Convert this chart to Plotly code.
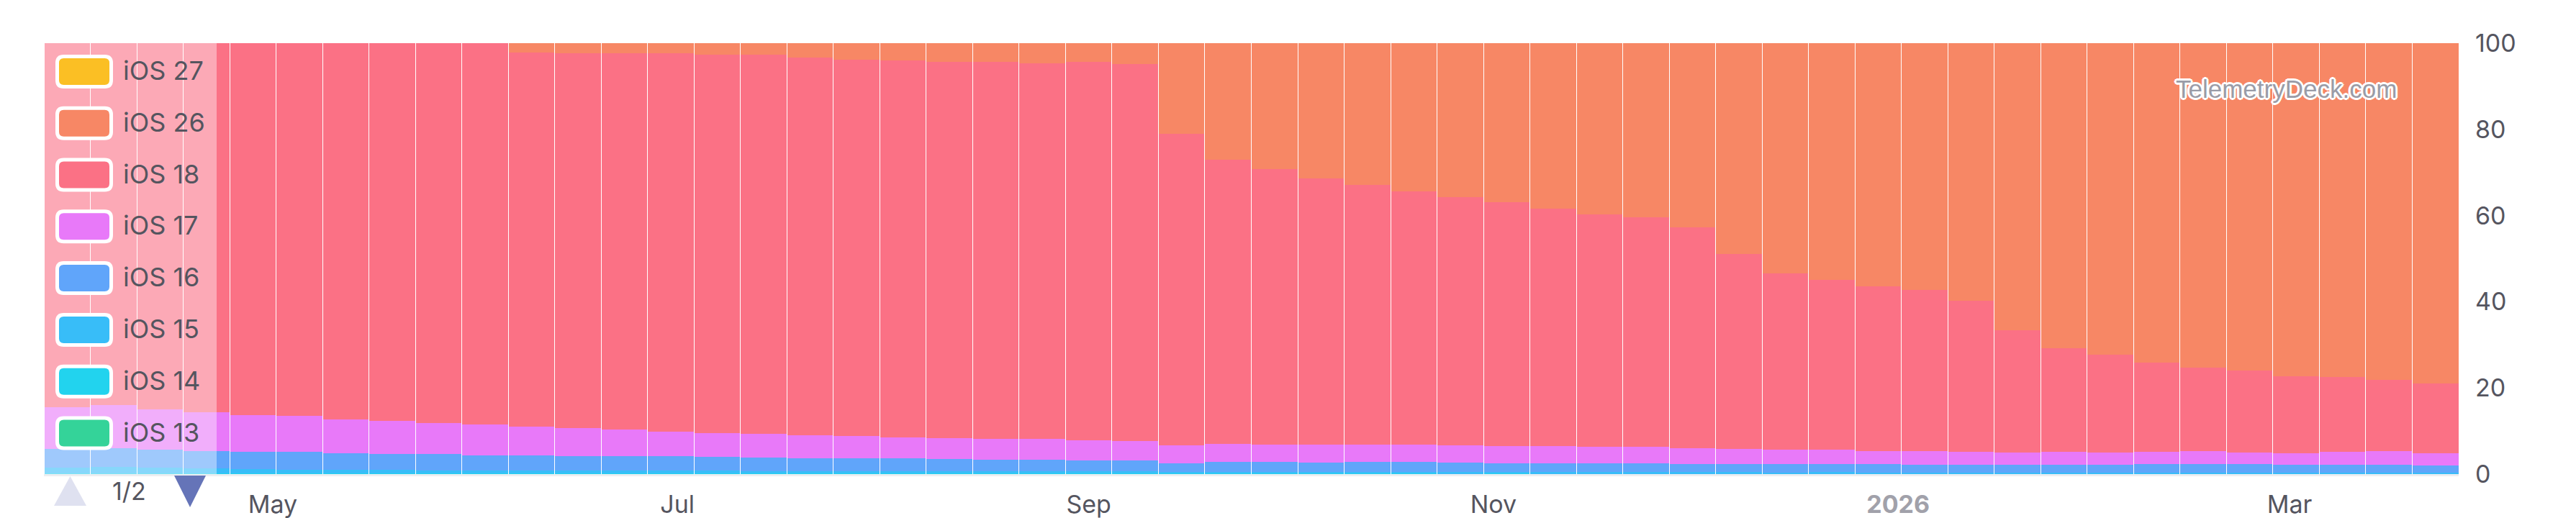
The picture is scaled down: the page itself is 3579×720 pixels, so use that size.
import datetime as dt
import plotly.graph_objects as go

# ---------------- data ----------------
first_week = "2025-03-31"
n_weeks = 52

series_names = ["iOS 13", "iOS 14", "iOS 15", "iOS 16", "iOS 17", "iOS 18", "iOS 26", "iOS 27"]
series_colors = ["#34d399", "#22d3ee", "#38bdf8", "#60a5fa", "#e879f9", "#fb7185", "#f78765", "#fbbf24"]

ios13 = [0.05, 0.05, 0.05, 0.05, 0.05, 0.05, 0.05, 0.05, 0.05, 0.05, 0.05, 0.05, 0.05,
         0.05, 0.05, 0.05, 0.05, 0.05, 0.05, 0.05, 0.05, 0.05, 0.05, 0.05, 0.05, 0.05,
         0.05, 0.05, 0.05, 0.05, 0.05, 0.05, 0.05, 0.05, 0.05, 0.05, 0.05, 0.05, 0.05,
         0.05, 0.05, 0.05, 0.05, 0.05, 0.05, 0.05, 0.05, 0.05, 0.05, 0.05, 0.05, 0.05]
ios14 = [0.12, 0.12, 0.12, 0.12, 0.12, 0.12, 0.12, 0.12, 0.12, 0.12, 0.12, 0.12, 0.12,
         0.12, 0.12, 0.12, 0.12, 0.12, 0.12, 0.12, 0.12, 0.12, 0.12, 0.12, 0.10, 0.10,
         0.10, 0.10, 0.10, 0.10, 0.10, 0.10, 0.10, 0.10, 0.10, 0.10, 0.10, 0.10, 0.10,
         0.10, 0.10, 0.10, 0.10, 0.10, 0.10, 0.10, 0.10, 0.10, 0.10, 0.10, 0.10, 0.10]
ios15 = [1.33, 1.53, 1.33, 1.13, 0.93, 0.88, 0.83, 0.78, 0.73, 0.73, 0.68, 0.68, 0.63,
         0.63, 0.63, 0.58, 0.58, 0.58, 0.53, 0.53, 0.48, 0.48, 0.48, 0.43, 0.36, 0.35,
         0.35, 0.34, 0.35, 0.34, 0.33, 0.34, 0.33, 0.32, 0.33, 0.31, 0.27, 0.26, 0.27,
         0.26, 0.25, 0.25, 0.24, 0.25, 0.24, 0.25, 0.26, 0.24, 0.24, 0.25, 0.24, 0.23]
ios16 = [4.4, 4.3, 4.2, 4.1, 4.0, 4.15, 3.9, 3.75, 3.7, 3.5, 3.55, 3.35, 3.4,
         3.3, 3.2, 3.15, 2.95, 2.95, 2.9, 2.8, 2.75, 2.75, 2.45, 2.5, 2.0, 2.3,
         2.3, 2.2, 2.3, 2.3, 2.2, 2.0, 2.0, 2.0, 2.0, 1.9, 1.9, 1.9, 2.0,
         1.9, 1.7, 1.7, 1.7, 1.7, 1.7, 1.9, 2.0, 1.9, 1.8, 1.8, 1.8, 1.7]
ios17 = [9.7, 10.0, 9.4, 8.9, 8.6, 8.3, 7.8, 7.6, 7.3, 7.1, 6.7, 6.5, 6.1,
         5.8, 5.6, 5.5, 5.3, 5.1, 4.9, 4.8, 4.7, 4.7, 4.7, 4.6, 4.1, 4.2,
         4.0, 4.1, 4.1, 4.0, 4.0, 4.0, 4.0, 3.8, 3.8, 3.6, 3.5, 3.4, 3.3,
         3.1, 3.2, 3.0, 3.0, 3.0, 2.9, 2.8, 2.9, 2.7, 2.7, 2.9, 3.1, 2.8]
ios18 = [84.4, 84.0, 84.9, 85.7, 86.3, 86.5, 87.3, 87.7, 88.1, 88.5, 86.8, 86.9, 87.3,
         87.7, 87.7, 87.9, 87.7, 87.4, 87.5, 87.4, 87.5, 87.3, 87.9, 87.4, 72.4, 65.9,
         64.0, 61.8, 60.2, 58.9, 57.6, 56.6, 55.2, 54.0, 53.3, 51.3, 45.2, 40.8, 39.4,
         38.1, 37.4, 35.1, 28.3, 24.1, 22.7, 20.8, 19.4, 19.0, 17.8, 17.5, 16.5, 16.1]
ios26 = [0.0, 0.0, 0.0, 0.0, 0.0, 0.0, 0.0, 0.0, 0.0, 0.0, 2.1, 2.4, 2.4,
         2.4, 2.7, 2.7, 3.3, 3.8, 4.0, 4.3, 4.4, 4.6, 4.3, 4.9, 21.0, 27.1,
         29.2, 31.4, 32.9, 34.3, 35.7, 36.9, 38.3, 39.7, 40.4, 42.7, 49.0, 53.5, 54.9,
         56.5, 57.3, 59.8, 66.6, 70.8, 72.3, 74.1, 75.3, 76.0, 77.3, 77.4, 78.2, 79.0]
ios27 = [0.0, 0.0, 0.0, 0.0, 0.0, 0.0, 0.0, 0.0, 0.0, 0.0, 0.0, 0.0, 0.0,
         0.0, 0.0, 0.0, 0.0, 0.0, 0.0, 0.0, 0.0, 0.0, 0.0, 0.0, 0.0, 0.0,
         0.0, 0.0, 0.0, 0.0, 0.0, 0.0, 0.0, 0.0, 0.0, 0.0, 0.0, 0.0, 0.0,
         0.0, 0.0, 0.0, 0.0, 0.0, 0.0, 0.0, 0.0, 0.0, 0.0, 0.0, 0.0, 0.0]

x_tick_vals = ["2025-05-01", "2025-07-01", "2025-09-01", "2025-11-01", "2026-01-01", "2026-03-01"]
x_tick_text = ["May", "Jul", "Sep", "Nov",
               "<span style='color:#a1a1aa'><b>2026</b></span>", "Mar"]
y_tick_vals = [0, 20, 40, 60, 80, 100]
legend_items = ["iOS 27", "iOS 26", "iOS 18", "iOS 17", "iOS 16", "iOS 15", "iOS 14", "iOS 13"]
page_label = "1/2"
watermark = "TelemetryDeck.com"

# ---------------- figure ----------------
# the page body has an 8px margin: figure sits at (8, 8) on screen
OFF = 8
W, H = 3579 - 2 * OFF, 720 - OFF
L, R, T, B = 61, 3416, 60, 659          # plot area in screen pixels
FONT = "Inter, 'Noto Sans', sans-serif"
TXT = "#55555f"

start = dt.date.fromisoformat(first_week)
weeks = [start + dt.timedelta(days=7 * i) for i in range(n_weeks)]

values = [ios13, ios14, ios15, ios16, ios17, ios18, ios26, ios27]
fig = go.Figure()
for name, col, vals in zip(series_names, series_colors, values):
    fig.add_trace(go.Bar(x=weeks, y=vals, name=name, marker=dict(color=col, line=dict(width=0)),
                         showlegend=False))

x0 = dt.datetime.combine(weeks[0], dt.time()) - dt.timedelta(days=3.5)
x1 = dt.datetime.combine(weeks[-1], dt.time()) + dt.timedelta(days=3.5)
slot_px = (R - L) / n_weeks
gap = 1.0 / slot_px                      # exactly one pixel of white between bars


def px(x):
    return (x - L) / (R - L)


def py(y):
    return (B - y) / (B - T)


shapes = []
annotations = []

# legend background
shapes.append(dict(type="rect", xref="paper", yref="paper", x0=px(61), x1=px(301), y0=py(659), y1=py(60),
                   fillcolor="rgba(255,255,255,0.4)", line=dict(width=0), layer="above"))


def rrect(w, h, r):
    a, b = w / 2, h / 2
    return (f"M {-a + r},{-b} L {a - r},{-b} Q {a},{-b} {a},{-b + r} L {a},{b - r} Q {a},{b} {a - r},{b} "
            f"L {-a + r},{b} Q {-a},{b} {-a},{b - r} L {-a},{-b + r} Q {-a},{-b} {-a + r},{-b} Z")


color_of = dict(zip(series_names, series_colors))
for k, name in enumerate(legend_items):
    cy = 99.4 + k * 71.8
    shapes.append(dict(type="path", xref="paper", yref="paper", xsizemode="pixel", ysizemode="pixel",
                       xanchor=px(117), yanchor=py(cy), path=rrect(75, 42, 9),
                       fillcolor=color_of[name], line=dict(color="white", width=5), layer="above"))
    annotations.append(dict(x=px(169), y=py(cy - 1.5), xref="paper", yref="paper", text=name,
                            showarrow=False, xanchor="left", yanchor="middle",
                            font=dict(family=FONT, size=36, color=TXT)))

# pagination
shapes.append(dict(type="path", xref="paper", yref="paper",
                   path=f"M {px(75)},{py(703)} L {px(120)},{py(703)} L {px(97.5)},{py(662)} Z",
                   fillcolor="#dfe1f0", line=dict(width=0), layer="above"))
shapes.append(dict(type="path", xref="paper", yref="paper",
                   path=f"M {px(242)},{py(661)} L {px(286)},{py(661)} L {px(264)},{py(705)} Z",
                   fillcolor="#6574b8", line=dict(width=0), layer="above"))
annotations.append(dict(x=px(179), y=py(682), xref="paper", yref="paper", text=page_label, showarrow=False,
                        xanchor="center", yanchor="middle", font=dict(family=FONT, size=34, color=TXT)))

# watermark
sh = ", ".join(f"{dx}px {dy}px 0 #fff" for dx, dy in
               [(-2, -2), (2, -2), (-2, 2), (2, 2), (0, 3), (0, -3), (3, 0), (-3, 0)])
annotations.append(dict(x=px(3176), y=py(123), xref="paper", yref="paper", text=watermark, showarrow=False,
                        xanchor="center", yanchor="middle",
                        font=dict(family="'Liberation Sans', Arial, sans-serif", size=35, color="#9a9ca7",
                                  shadow=sh)))

fig.update_layout(
    width=W, height=H, autosize=False,
    margin=dict(l=L - OFF, r=W - (R - OFF), t=T - OFF, b=H - (B - OFF), pad=0, autoexpand=False),
    barmode="stack", bargap=gap,
    plot_bgcolor="white", paper_bgcolor="white",
    showlegend=False,
    shapes=shapes, annotations=annotations,
    font=dict(family=FONT, size=34, color=TXT),
    xaxis=dict(type="date", range=[x0, x1], tickvals=x_tick_vals, ticktext=x_tick_text,
               showgrid=False, zeroline=False, showline=True, linecolor="#eceef1", linewidth=3,
               ticks="", ticklabelstandoff=10, automargin=False,
               tickfont=dict(family=FONT, size=34, color=TXT)),
    yaxis=dict(side="right", range=[0, 100], tickvals=y_tick_vals, showgrid=False, zeroline=False,
               showline=False, ticks="", ticklabelstandoff=22, automargin=False,
               tickfont=dict(family=FONT, size=34, color=TXT)),
)

fig.write_html("out.html")
